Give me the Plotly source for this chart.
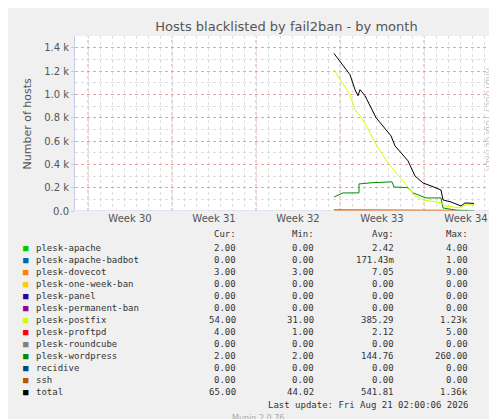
import plotly.graph_objects as go

# days since start of week 30 (Monday)
total_px = [326, 333, 342, 347, 350, 352, 357, 368, 383, 387, 400, 407, 415, 423, 433, 435, 443, 453, 457, 466]
total_val = [1350, 1271, 1168, 1040, 988, 1040, 988, 800, 644, 558, 430, 300, 240, 215, 180, 95, 77, 43, 69, 65]
postfix_px = [326, 333, 342, 347, 355, 370, 380, 395, 407, 415, 433, 437, 453, 457, 466]
postfix_val = [1211, 1117, 997, 868, 782, 541, 412, 258, 129, 95, 69, 43, 26, 54, 54]
wp_px = [326, 335, 335, 351, 351, 365, 384, 386, 400, 405, 418, 433, 435, 452, 466]
wp_val = [120, 155, 155, 155, 232, 243, 250, 206, 200, 155, 112, 112, 26, 2, 2]
dovecot_px = [326, 400, 430, 440, 460]
dovecot_val = [8, 7, 6, 4, 3]

names = ["plesk-apache", "plesk-apache-badbot", "plesk-dovecot", "plesk-one-week-ban", "plesk-panel",
         "plesk-permanent-ban", "plesk-postfix", "plesk-proftpd", "plesk-roundcube", "plesk-wordpress",
         "recidive", "ssh", "total"]
colors = ["#00CC00", "#0066B3", "#FF8000", "#FFCC00", "#330099", "#990099", "#CCFF00", "#FF0000",
          "#808080", "#008F00", "#00487D", "#B35A00", "#000000"]
cur = ["2.00", "0.00", "3.00", "0.00", "0.00", "0.00", "54.00", "4.00", "0.00", "2.00", "0.00", "0.00", "65.00"]
mins = ["0.00", "0.00", "3.00", "0.00", "0.00", "0.00", "31.00", "1.00", "0.00", "2.00", "0.00", "0.00", "44.02"]
avgs = ["2.42", "171.43m", "7.05", "0.00", "0.00", "0.00", "385.29", "2.12", "0.00", "144.76", "0.00", "0.00", "541.81"]
maxs = ["4.00", "1.00", "9.00", "0.00", "0.00", "0.00", "1.23k", "5.00", "0.00", "260.00", "0.00", "0.00", "1.36k"]
weeks = ["Week 30", "Week 31", "Week 32", "Week 33", "Week 34"]


def day(pxs):
    return [(p - 80) / 12 for p in pxs]


L, R, T, B = 67, 490, 28, 203


def xp(px):
    return (px - L) / (R - L)


def yp(py):
    return (B - py) / (B - T)


fig = go.Figure()
fig.add_trace(go.Scatter(x=day(dovecot_px), y=dovecot_val, mode="lines", line=dict(color="#FF8000", width=2)))
fig.add_trace(go.Scatter(x=day(wp_px), y=wp_val, mode="lines", line=dict(color="#008F00", width=1)))
fig.add_trace(go.Scatter(x=day(postfix_px), y=postfix_val, mode="lines", line=dict(color="#CCFF00", width=1)))
fig.add_trace(go.Scatter(x=day(total_px), y=total_val, mode="lines", line=dict(color="#000000", width=1)))

for w in range(5):
    fig.add_shape(type="line", x0=7 * w, x1=7 * w, y0=0, y1=1500, layer="below",
                  line=dict(color="#F0A0A0", width=1, dash="dot"))

mono = dict(family="DejaVu Sans Mono", size=9, color="#333333")
ann = []
for px, t in [(230, "Cur:"), (308, "Min:"), (388, "Avg:"), (462, "Max:")]:
    ann.append(dict(x=xp(px), y=yp(226), text=t, xanchor="right"))
for i, n in enumerate(names):
    py = 240 + 12 * i
    ann.append(dict(x=xp(13), y=yp(py), text=f"<span style='color:{colors[i]}'>■</span>", xanchor="left"))
    ann.append(dict(x=xp(26), y=yp(py), text=n, xanchor="left"))
    ann.append(dict(x=xp(230), y=yp(py), text=cur[i], xanchor="right"))
    ann.append(dict(x=xp(308), y=yp(py), text=mins[i], xanchor="right"))
    ann.append(dict(x=xp(388), y=yp(py), text=avgs[i], xanchor="right"))
    ann.append(dict(x=xp(462), y=yp(py), text=maxs[i], xanchor="right"))
ann.append(dict(x=xp(462), y=yp(397), text="Last update: Fri Aug 21 02:00:06 2026", xanchor="right"))
for a in ann:
    a.update(xref="paper", yref="paper", yanchor="middle", showarrow=False, font=mono)
ann.append(dict(x=xp(250), y=yp(410), xref="paper", yref="paper", text="Munin 2.0.76", showarrow=False,
                yanchor="middle", font=dict(family="DejaVu Sans", size=8, color="#AAAAAA")))
ann.append(dict(x=xp(487), y=yp(58), xref="paper", yref="paper", text="RRDTOOL / TOBI OETIKER", textangle=90,
                showarrow=False, font=dict(family="DejaVu Sans", size=8, color="#BBBBBB")))
ann.append(dict(x=xp(10), y=yp(116), xref="paper", yref="paper", text="Number of hosts", textangle=-90,
                showarrow=False, font=dict(family="DejaVu Sans", size=11, color="#555555")))

fig.update_layout(
    width=497, height=419, showlegend=False,
    margin=dict(l=L, r=497 - R, t=T, b=419 - B, autoexpand=False),
    paper_bgcolor="#F0F0F0", plot_bgcolor="#FFFFFF",
    title=dict(text="Hosts blacklisted by fail2ban - by month", x=0.5, xref="paper", y=1 - 18 / 419,
               yanchor="middle", font=dict(family="DejaVu Sans", size=13, color="#555555")),
    annotations=ann,
)
fig.update_xaxes(range=[-13 / 12, (R - 80) / 12], tickvals=[3.5, 10.5, 17.5, 24.5, 31.5], ticktext=weeks,
                 showgrid=False, zeroline=False, showline=False, ticks="", automargin=False,
                 tickfont=dict(family="DejaVu Sans", size=10, color="#555555"),
                 minor=dict(dtick=1, tick0=0, showgrid=True, gridcolor="#DDDDDD", griddash="dot"))
fig.update_yaxes(range=[0, 1500], tickvals=[0, 200, 400, 600, 800, 1000, 1200, 1400],
                 ticktext=["0.0", "0.2 k", "0.4 k", "0.6 k", "0.8 k", "1.0 k", "1.2 k", "1.4 k"],
                 gridcolor="#F0A0A0", griddash="dot", zeroline=False, showline=True, linecolor="#C8C8E8",
                 tickfont=dict(family="DejaVu Sans", size=10, color="#555555"), ticks="outside", ticklen=3,
                 tickcolor="#C8C8E8", automargin=False,
                 minor=dict(dtick=100, showgrid=True, gridcolor="#DDDDDD", griddash="dot"))
fig.add_hline(y=0, line=dict(color="#C8C8E8", width=1))
fig.write_html("out.html")
